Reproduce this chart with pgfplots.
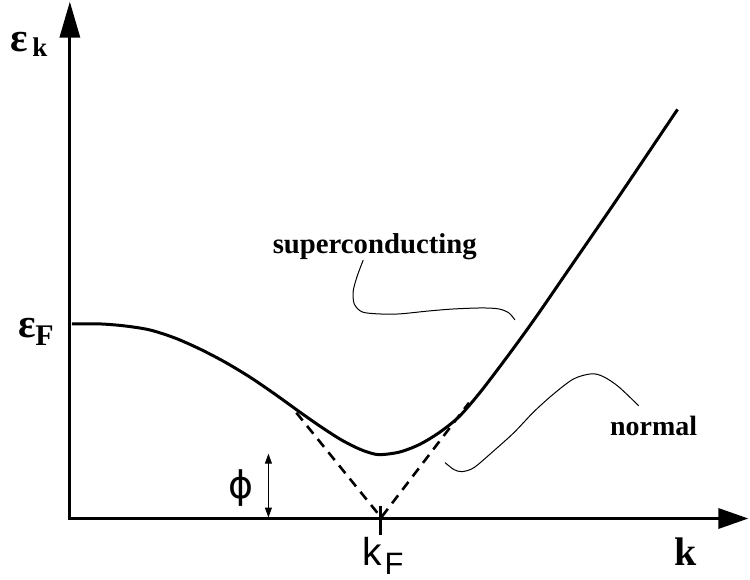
\documentclass[border=0pt]{standalone}
\usepackage{pgfplots}
\pgfplotsset{compat=1.18}
\usepackage{pgfplotstable}
\usetikzlibrary{arrows.meta}
\usepackage{fontspec}
\setmainfont{Liberation Serif}
\newfontfamily\sansf{Liberation Sans}
\newfontfamily\dejavu{DejaVu Sans}

% coordinates in picture pixels (y grows downward)
\pgfplotstableread{
x y
72 323
100 323
125 325
150 329
175 337
200 348
225 361
250 376
275 393
300 411
320 425
340 438
355 446
367 451
380 454
400 451.5
420 444
440 432
460 416
480 393
500 367
520 340
540 312
573 264
617 200
679 108
}\scband

\pgfplotstableread{
x y
297 412
382 517
470 402
}\normband

\begin{document}
\begin{tikzpicture}
\begin{axis}[
    width=375pt, height=289.5pt, scale only axis,
    xmin=0, xmax=750, ymin=0, ymax=579, y dir=reverse,
    hide axis, clip=false,
]
\addplot[draw=none, forget plot] coordinates {(0,0) (750,579)};

% axes
\addplot[black, line width=1.6pt, -{Triangle[length=15pt,width=10pt]}] coordinates {(69,518) (750,518)};
\addplot[black, line width=1.6pt, -{Triangle[length=18pt,width=10pt]}] coordinates {(70,519) (70,0)};

% bands
\addplot[black, line width=1.5pt, smooth] table {\scband};
\addplot[black, line width=1.3pt, dash pattern=on 5pt off 3.5pt] table {\normband};

% k_F tick
\addplot[black, line width=1.5pt] coordinates {(381,505) (381,535)};

% gap arrow
\addplot[black, line width=0.5pt, {Triangle[length=5pt,width=3.5pt]}-{Triangle[length=5pt,width=3.5pt]}] coordinates {(269,453) (269,517)};

% leaders
\addplot[black, line width=0.5pt, smooth] coordinates {
(364,259) (358,275) (354,290) (355,303) (363,311) (380,313) (400,313)
(430,310) (455,308) (483,307) (500,308) (510,312) (516,319)};
\addplot[black, line width=0.5pt, smooth] coordinates {
(446,462) (455,469) (463,471) (475,467) (495,450) (515,432) (535,411)
(555,393) (575,378) (593,373) (605,376) (620,386) (640,405)};

% labels
\node[anchor=base west, inner sep=0] at (axis cs:10,50) {\fontsize{20.5}{21}\selectfont\bfseries ε};
\node[anchor=base west, inner sep=0] at (axis cs:32,55) {\fontsize{13.5}{14}\selectfont\bfseries k};
\node[anchor=base west, inner sep=0] at (axis cs:18,337) {\fontsize{20.5}{21}\selectfont\bfseries ε};
\node[anchor=base west, inner sep=0] at (axis cs:35,345) {\fontsize{15}{15}\selectfont\bfseries F};
\node[anchor=base west, inner sep=0] at (axis cs:676,565) {\fontsize{20}{20}\selectfont\bfseries k};
\node[anchor=base west, inner sep=0] at (axis cs:363,565) {\sansf\fontsize{19.5}{20}\selectfont k};
\node[anchor=base west, inner sep=0] at (axis cs:385,574) {\sansf\fontsize{15.5}{16}\selectfont F};
\node[anchor=center, inner sep=0] at (axis cs:242,487) {\dejavu\fontsize{19}{19}\selectfont ϕ};
\node[anchor=base west, inner sep=0] at (axis cs:273,252) {\fontsize{14.4}{15}\selectfont\bfseries superconducting};
\node[anchor=base west, inner sep=0] at (axis cs:611,435) {\fontsize{14}{15}\selectfont\bfseries normal};
\end{axis}
\end{tikzpicture}
\end{document}
